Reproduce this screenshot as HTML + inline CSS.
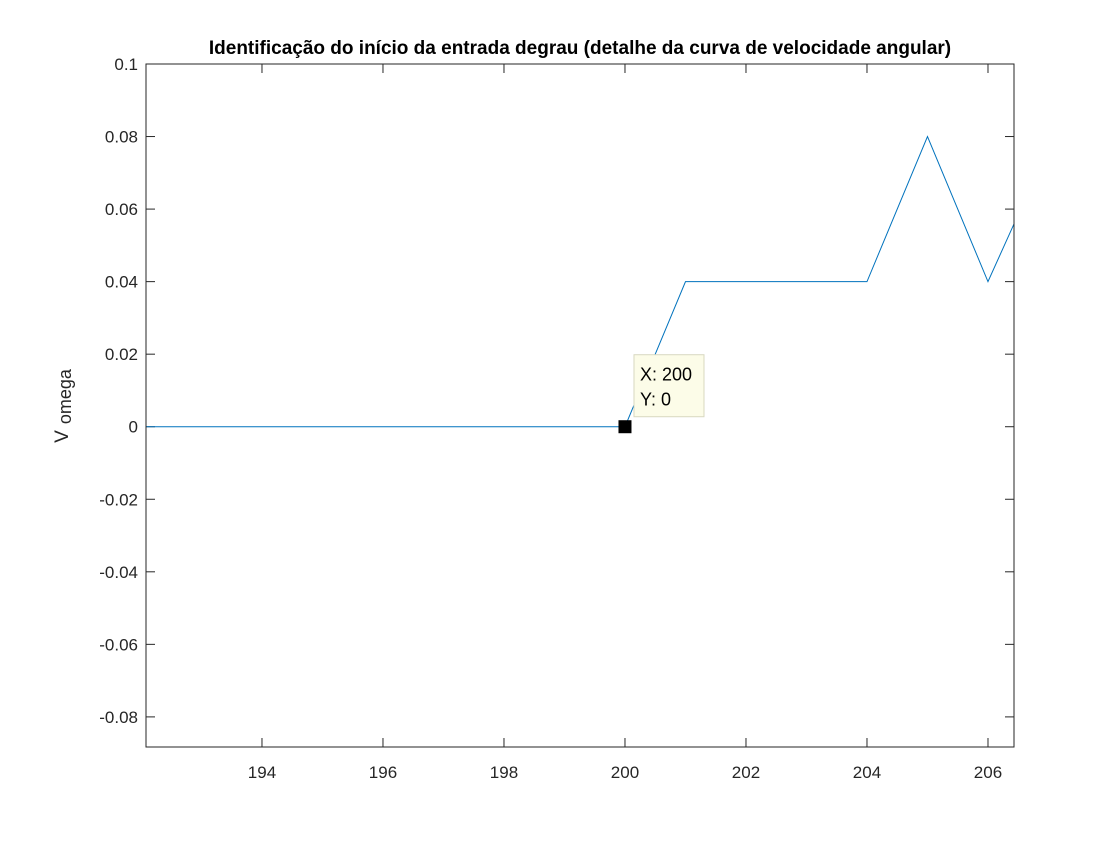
<!DOCTYPE html>
<html><head><meta charset="utf-8"><style>
body{margin:0;background:#fff;}
svg text{font-family:"Liberation Sans",sans-serif;}
</style></head><body>
<svg id="chart" width="1120" height="840" xmlns="http://www.w3.org/2000/svg">
<rect width="1120" height="840" fill="#fff"/>
<text x="580" y="54" text-anchor="middle" font-size="19" font-weight="bold" fill="#000">Identificação do início da entrada degrau (detalhe da curva de velocidade angular)</text>
<text transform="translate(68,406) rotate(-90)" text-anchor="middle" font-size="19" fill="#262626">V<tspan dx="6" dy="3" font-size="18">omega</tspan></text>
<g id="ticks"></g>
<g id="plot"></g>
<rect x="146" y="64" width="868" height="683" fill="none" stroke="#262626" stroke-width="1"/>
<g id="tip"></g>
</svg>
<script>
const xTicks=[194,196,198,200,202,204,206];
const yTicks=[0.1,0.08,0.06,0.04,0.02,0,-0.02,-0.04,-0.06,-0.08];
const yTickLabels=["0.1","0.08","0.06","0.04","0.02","0","-0.02","-0.04","-0.06","-0.08"];
const xs=[192,193,194,195,196,197,198,199,200,201,202,203,204,205,206,207];
const ys=[0,0,0,0,0,0,0,0,0,0.04,0.04,0.04,0.04,0.08,0.04,0.077];
const tipX=200, tipY=0;
const X0=192.083,X1=206.43,Y0=-0.0883,Y1=0.1;
const L=146,R=1014,T=64,B=747;
const sx=v=>L+(v-X0)/(X1-X0)*(R-L);
const sy=v=>B-(v-Y0)/(Y1-Y0)*(B-T);
const NS="http://www.w3.org/2000/svg";
function mk(tag,attrs,parent){const e=document.createElementNS(NS,tag);for(const k in attrs)e.setAttribute(k,attrs[k]);parent.appendChild(e);return e;}
const tg=document.getElementById('ticks');
xTicks.forEach(v=>{const x=sx(v);
 let l=mk('line',{x1:x,x2:x,y1:B,y2:B-9,stroke:'#262626'},tg);
 
 
 let l2=mk('line',{x1:x,x2:x,y1:T,y2:T+9,stroke:'#262626'},tg);
 
 
 let t=mk('text',{x:x,y:B+31,'text-anchor':'middle','font-size':17,fill:'#262626'},tg);t.textContent=v;
 
 
});
yTicks.forEach((v,i)=>{const y=sy(v);
 let l=mk('line',{x1:L,x2:L+9,y1:y,y2:y,stroke:'#262626'},tg);
 
 
 let l2=mk('line',{x1:R,x2:R-9,y1:y,y2:y,stroke:'#262626'},tg);
 
 
 let t=mk('text',{x:L-8,y:y+6,'text-anchor':'end','font-size':17,fill:'#262626'},tg);t.textContent=yTickLabels[i];
 
 
});
const pg=document.getElementById('plot');
const cp=mk('clipPath',{id:'cp'},pg);mk('rect',{x:L,y:T,width:R-L,height:B-T},cp);
const pts=xs.map((v,i)=>sx(v).toFixed(2)+','+sy(ys[i]).toFixed(2)).join(' ');
const line=mk('polyline',{points:pts,fill:'none',stroke:'#0072BD','stroke-width':1,'clip-path':'url(#cp)'},pg);


const tip=document.getElementById('tip');
const mx=sx(tipX),my=sy(tipY);
const m=mk('rect',{x:mx-6.5,y:my-6.5,width:13,height:13,fill:'#000'},tip);


const box=mk('rect',{x:mx+9,y:my-72,width:70,height:62,fill:'#fcfce8',stroke:'#d8d8c0'},tip);


const t1=mk('text',{x:mx+15,y:my-46,'font-size':18,fill:'#000'},tip);t1.textContent='X: '+tipX;


const t2=mk('text',{x:mx+15,y:my-21,'font-size':18,fill:'#000'},tip);t2.textContent='Y: '+tipY;


</script>
</body></html>
